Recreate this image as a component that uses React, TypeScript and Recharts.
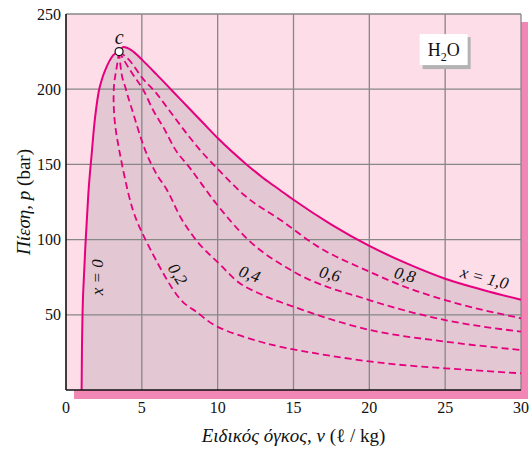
import React from "react";
import {
  ComposedChart,
  Area,
  Line,
  XAxis,
  YAxis,
  CartesianGrid,
  ReferenceLine,
  ReferenceDot,
} from "recharts";

const xTicks = [0, 5, 10, 15, 20, 25, 30];
const yTicks = [50, 100, 150, 200, 250];

// saturated liquid line, x = 0
const satLiquid = [
  { v: 1.03, p: 0 },
  { v: 1.05, p: 25 },
  { v: 1.09, p: 50 },
  { v: 1.18, p: 75 },
  { v: 1.3, p: 100 },
  { v: 1.47, p: 130 },
  { v: 1.72, p: 160 },
  { v: 1.85, p: 175 },
  { v: 2.0, p: 188 },
  { v: 2.15, p: 198 },
  { v: 2.35, p: 206 },
  { v: 2.6, p: 213 },
  { v: 2.85, p: 218.5 },
  { v: 3.1, p: 222.5 },
  { v: 3.5, p: 225 },
];

// saturated vapour line, x = 1
const satVapor = [
  { v: 3.5, p: 225 },
  { v: 3.8, p: 228 },
  { v: 4.3, p: 226 },
  { v: 5.07, p: 219 },
  { v: 6.0, p: 209.5 },
  { v: 7.0, p: 199 },
  { v: 8.0, p: 188.5 },
  { v: 9.0, p: 178 },
  { v: 10, p: 167.5 },
  { v: 11.9, p: 150 },
  { v: 13, p: 141 },
  { v: 14.1, p: 133 },
  { v: 15, p: 126.5 },
  { v: 17.5, p: 110 },
  { v: 20, p: 95.8 },
  { v: 22.5, p: 84 },
  { v: 25, p: 74 },
  { v: 27.5, p: 66.5 },
  { v: 30, p: 60 },
];

const quality02 = [
  { v: 3.5, p: 225 },
  { v: 3.3, p: 212 },
  { v: 3.15, p: 200 },
  { v: 3.2, p: 180 },
  { v: 3.5, p: 160 },
  { v: 3.9, p: 140 },
  { v: 4.4, p: 120 },
  { v: 5.0, p: 105 },
  { v: 5.9, p: 87 },
  { v: 7.4, p: 62 },
  { v: 8.6, p: 52 },
  { v: 10, p: 42 },
  { v: 12.5, p: 33 },
  { v: 15, p: 27 },
  { v: 20, p: 19 },
  { v: 25, p: 14.4 },
  { v: 30, p: 11.1 },
];

const quality04 = [
  { v: 3.5, p: 225 },
  { v: 3.6, p: 215 },
  { v: 3.95, p: 200 },
  { v: 4.4, p: 185 },
  { v: 5.2, p: 160 },
  { v: 6.0, p: 143 },
  { v: 6.6, p: 134 },
  { v: 7.6, p: 114 },
  { v: 8.4, p: 102 },
  { v: 10.3, p: 82 },
  { v: 11.2, p: 73 },
  { v: 13, p: 63 },
  { v: 15, p: 55.4 },
  { v: 20, p: 40 },
  { v: 25, p: 32.2 },
  { v: 30, p: 26.6 },
];

const quality06 = [
  { v: 3.5, p: 225 },
  { v: 3.9, p: 218 },
  { v: 4.4, p: 210 },
  { v: 5.07, p: 200 },
  { v: 5.8, p: 185 },
  { v: 6.4, p: 175 },
  { v: 7.2, p: 160 },
  { v: 8.14, p: 148 },
  { v: 9.9, p: 124 },
  { v: 12, p: 100 },
  { v: 15, p: 78.7 },
  { v: 20, p: 59.8 },
  { v: 25, p: 46.5 },
  { v: 30, p: 38.8 },
];

const quality08 = [
  { v: 3.5, p: 225 },
  { v: 4.2, p: 219 },
  { v: 5.07, p: 207 },
  { v: 5.9, p: 198 },
  { v: 6.8, p: 186 },
  { v: 8.0, p: 170 },
  { v: 8.8, p: 160 },
  { v: 10.1, p: 146 },
  { v: 11.7, p: 130 },
  { v: 14.3, p: 112 },
  { v: 16.5, p: 96 },
  { v: 20, p: 78.7 },
  { v: 22.5, p: 68 },
  { v: 25, p: 59.8 },
  { v: 30, p: 47.7 },
];

const dome = [...satLiquid, ...satVapor.slice(1)];

const critical = { v: 3.5, p: 225 };

const curveLabels = [
  { v: 2.05, p: 75, text: "x = 0", rot: -90 },
  { v: 7.36, p: 77, text: "0,2", rot: 58 },
  { v: 12.1, p: 77, text: "0,4", rot: 20 },
  { v: 17.4, p: 77, text: "0,6", rot: 15 },
  { v: 22.35, p: 76.5, text: "0,8", rot: 15 },
  { v: 27.6, p: 74.5, text: "x = 1,0", rot: 15 },
];

const substance = { v: 24.9, p: 226 };

const serif = '"Liberation Serif", "Times New Roman", serif';
const magenta = "#e6007e";

const CurveLabel = (props: any) => {
  const { viewBox, text, rot } = props;
  const x = viewBox.x + viewBox.width / 2;
  const y = viewBox.y + viewBox.height / 2;
  return (
    <text
      x={x}
      y={y}
      transform={`rotate(${rot} ${x} ${y})`}
      textAnchor="middle"
      dominantBaseline="central"
      fontFamily={serif}
      fontStyle="italic"
      fontSize={17}
      fill="#111"
    >
      {text}
    </text>
  );
};

const H2OBox = (props: any) => {
  const { viewBox } = props;
  const x = viewBox.x + viewBox.width / 2;
  const y = viewBox.y + viewBox.height / 2;
  return (
    <g>
      <rect x={x - 21} y={y - 13} width={48} height={32} fill="#b3b3b3" />
      <rect x={x - 24} y={y - 16} width={48} height={31} fill="#fff" />
      <text
        x={x}
        y={y + 6}
        textAnchor="middle"
        fontFamily={serif}
        fontSize={18}
        fill="#111"
      >
        H
        <tspan fontSize={12} dy={5}>
          2
        </tspan>
        <tspan dy={-5}>O</tspan>
      </text>
    </g>
  );
};

const YLabel = (props: any) => {
  const { viewBox } = props;
  const x = viewBox.x + 23;
  const y = viewBox.y + viewBox.height / 2;
  return (
    <text
      x={x}
      y={y}
      transform={`rotate(-90 ${x} ${y})`}
      textAnchor="middle"
      dominantBaseline="central"
      fontFamily={serif}
      fontSize={19}
      fill="#111"
    >
      <tspan fontStyle="italic">Πίεση, p</tspan> (bar)
    </text>
  );
};

const XLabel = (props: any) => {
  const { viewBox } = props;
  const x = viewBox.x + viewBox.width / 2;
  const y = viewBox.y + 52;
  return (
    <text
      x={x}
      y={y}
      textAnchor="middle"
      fontFamily={serif}
      fontSize={19}
      fill="#111"
    >
      <tspan fontStyle="italic">Ειδικός όγκος, v</tspan> (ℓ / kg)
    </text>
  );
};

const tickStyle = { fontFamily: serif, fontSize: 16, fill: "#111" };

export default function App() {
  return (
    <div style={{ position: "absolute", left: 0, top: 0, width: 530, height: 450 }}>
      <div
        style={{
          position: "absolute",
          left: 74,
          top: 22,
          width: 454,
          height: 377,
          background: "#f287b5",
        }}
      />
      <div style={{ position: "absolute", left: 0, top: 0 }}>
        <ComposedChart
          width={530}
          height={450}
          data={dome}
          margin={{ top: 14, right: 9, left: 0, bottom: 0 }}
        >
          <CartesianGrid fill="#fcdde8" stroke="none" vertical={false} horizontal={false} />
          <XAxis
            dataKey="v"
            type="number"
            domain={[0, 30]}
            ticks={xTicks}
            interval={0}
            height={60}
            tickSize={0}
            tickMargin={12}
            tick={tickStyle}
            axisLine={{ stroke: "#111", strokeWidth: 1.6 }}
            label={<XLabel />}
          />
          <YAxis
            type="number"
            domain={[0, 250]}
            ticks={yTicks}
            interval={0}
            width={66}
            tickSize={0}
            tickMargin={5}
            tick={tickStyle}
            axisLine={{ stroke: "#111", strokeWidth: 1.6 }}
            label={<YLabel />}
          />
          <Area
            dataKey="p"
            type="monotone"
            fill="#e3c8d3"
            fillOpacity={1}
            stroke="none"
            isAnimationActive={false}
          />
          {xTicks.slice(1).map((t) => (
            <ReferenceLine key={"gx" + t} x={t} stroke="#878787" strokeWidth={1.3} />
          ))}
          {yTicks.map((t) => (
            <ReferenceLine key={"gy" + t} y={t} stroke="#878787" strokeWidth={1.3} />
          ))}
          <Line
            data={quality02}
            dataKey="p"
            type="natural"
            stroke={magenta}
            strokeWidth={1.8}
            strokeDasharray="7 4"
            dot={false}
            isAnimationActive={false}
          />
          <Line
            data={quality04}
            dataKey="p"
            type="monotone"
            stroke={magenta}
            strokeWidth={1.8}
            strokeDasharray="7 4"
            dot={false}
            isAnimationActive={false}
          />
          <Line
            data={quality06}
            dataKey="p"
            type="monotone"
            stroke={magenta}
            strokeWidth={1.8}
            strokeDasharray="7 4"
            dot={false}
            isAnimationActive={false}
          />
          <Line
            data={quality08}
            dataKey="p"
            type="monotone"
            stroke={magenta}
            strokeWidth={1.8}
            strokeDasharray="7 4"
            dot={false}
            isAnimationActive={false}
          />
          <Line
            data={satLiquid}
            dataKey="p"
            type="monotone"
            stroke={magenta}
            strokeWidth={2}
            dot={false}
            isAnimationActive={false}
          />
          <Line
            data={satVapor}
            dataKey="p"
            type="monotone"
            stroke={magenta}
            strokeWidth={2}
            dot={false}
            isAnimationActive={false}
          />
          {curveLabels.map((l) => (
            <ReferenceDot
              key={l.text}
              x={l.v}
              y={l.p}
              r={0}
              stroke="none"
              fill="none"
              label={<CurveLabel text={l.text} rot={l.rot} />}
            />
          ))}
          <ReferenceDot
            x={substance.v}
            y={substance.p}
            r={0}
            stroke="none"
            fill="none"
            label={<H2OBox />}
          />
          <ReferenceDot
            x={critical.v}
            y={critical.p}
            r={4}
            fill="#fff"
            stroke="#111"
            strokeWidth={1.2}
            label={{
              value: "c",
              position: "top",
              offset: 4,
              fontFamily: serif,
              fontStyle: "italic",
              fontSize: 20,
              fill: "#111",
            }}
          />
        </ComposedChart>
      </div>
    </div>
  );
}
